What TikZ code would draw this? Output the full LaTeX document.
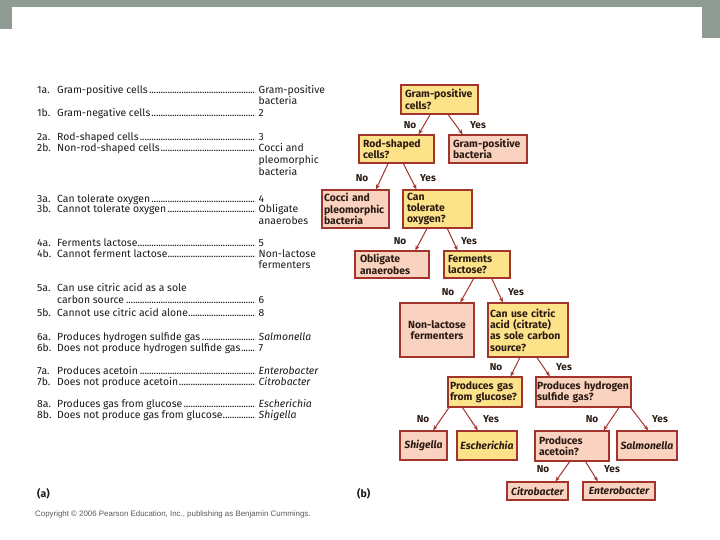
\documentclass[tikz,border=0pt]{standalone}
\usepackage{fontspec}
\setmainfont{Fira Sans}
\newfontfamily\cpfont{Liberation Sans}
\usetikzlibrary{calc,arrows.meta}
\hyphenpenalty=10000
\exhyphenpenalty=10000
\definecolor{graybar}{HTML}{8F9C94}
\definecolor{yfill}{HTML}{FCE38A}
\definecolor{pfill}{HTML}{F9D3BF}
\definecolor{bord}{HTML}{A3342C}
\definecolor{btext}{HTML}{2A1A12}
\definecolor{ktext}{HTML}{1E1A1B}
\newcommand\leaderdots{\leaders\hbox to 2.3pt{\hss.\hss}\hfill}
\newcommand\keyrow[5]{\node[keytxt] (#1) at (37,#2) {\makebox[20pt][l]{#3}\makebox[198pt][l]{#4\leaderdots}\hspace{3.5pt}#5};}
\newcommand\keycont[3]{\node[keytxt] (#1) at (258.5,#2) {#3};}
\newcommand\tarrow[4]{\draw[arrline] ($(#1.south west)!#2!(#1.south east)$) -- ($(#3.north west)!#4!(#3.north east)$);}
\begin{document}
\begin{tikzpicture}[x=1pt,y=-1pt,
  keytxt/.style={anchor=base west, inner sep=0pt, text=ktext, font=\fontsize{10.4}{11}\selectfont},
  tbox/.style={draw=bord, line width=1.1pt, text=btext, inner xsep=4pt, inner ysep=1pt,
    font=\fontsize{10.4}{11.4}\selectfont\bfseries},
  ybox/.style={tbox, fill=yfill},
  pbox/.style={tbox, fill=pfill},
  arrline/.style={draw=bord, line width=1pt, -{Stealth[length=5pt,width=4pt]}},
  lab/.style={inner sep=0pt, text=btext, font=\fontsize{10}{11}\selectfont\bfseries},
  plab/.style={anchor=west, inner sep=0pt, text=ktext, font=\fontsize{10.5}{12}\selectfont\bfseries}]
\useasboundingbox (0,0) rectangle (720,540);
\fill[white] (0,0) rectangle (720,540);
\fill[graybar] (0,0) rectangle (720,7);
\fill[graybar] (0,0) rectangle (12,29);
\fill[graybar] (702,0) rectangle (720,38);

% ---------- key (a) ----------
\keyrow{k1a}{93.5}{1a.}{Gram-positive cells}{Gram-positive}
\keycont{k1ab}{104.5}{bacteria}
\keyrow{k1b}{116.5}{1b.}{Gram-negative cells}{2}
\keyrow{k2a}{140.5}{2a.}{Rod-shaped cells}{3}
\keyrow{k2b}{151.5}{2b.}{Non-rod-shaped cells}{Cocci and}
\keycont{k2bb}{163.5}{pleomorphic}
\keycont{k2bc}{175.5}{bacteria}
\keyrow{k3a}{202.5}{3a.}{Can tolerate oxygen}{4}
\keyrow{k3b}{213}{3b.}{Cannot tolerate oxygen}{Obligate}
\keycont{k3bb}{224.5}{anaerobes}
\keyrow{k4a}{246.5}{4a.}{Ferments lactose}{5}
\keyrow{k4b}{257.5}{4b.}{Cannot ferment lactose}{Non-lactose}
\keycont{k4bb}{268.5}{fermenters}
\node[keytxt] (k5a) at (37,291.5) {\makebox[20pt][l]{5a.}Can use citric acid as a sole};
\node[keytxt] (k5aa) at (57,303.5) {\makebox[198pt][l]{carbon source\leaderdots}\hspace{3.5pt}6};
\keyrow{k5b}{316.5}{5b.}{Cannot use citric acid alone}{8}
\keyrow{k6a}{340.5}{6a.}{Produces hydrogen sulfide gas}{\textit{Salmonella}}
\keyrow{k6b}{351.5}{6b.}{Does not produce hydrogen sulfide gas}{7}
\keyrow{k7a}{374.5}{7a.}{Produces acetoin}{\textit{Enterobacter}}
\keyrow{k7b}{385.5}{7b.}{Does not produce acetoin}{\textit{Citrobacter}}
\keyrow{k8a}{407.5}{8a.}{Produces gas from glucose}{\textit{Escherichia}}
\keyrow{k8b}{418.5}{8b.}{Does not produce gas from glucose}{\textit{Shigella}}

\node[plab] (pa) at (37,494) {(a)};
\node[plab] (pb) at (357,494) {(b)};
\node[anchor=west, inner sep=0pt, text=black!65, font=\cpfont\fontsize{7.9}{9}\selectfont] (copy) at (35,514)
  {Copyright \textcopyright{} 2006 Pearson Education, Inc., publishing as Benjamin Cummings.};

% ---------- tree (b) ----------
\node[ybox, minimum width=77pt, minimum height=29pt, text width=69pt, align=left] (q1) at (439.5,99.5) {Gram-positive\\cells?};
\node[pbox, minimum width=78pt, minimum height=28pt, text width=70pt, align=left] (gpb) at (488,149) {Gram-positive\\bacteria};
\node[ybox, minimum width=75pt, minimum height=28pt, text width=67pt, align=left] (q2) at (396.5,149) {Rod-shaped\\cells?};
\node[pbox, minimum width=67pt, minimum height=38pt, text width=63pt, inner xsep=2pt, align=left] (cocci) at (355.5,209) {Cocci and\\pleomorphic\\bacteria};
\node[ybox, minimum width=69pt, minimum height=38pt, text width=61pt, align=left] (q3) at (437.5,209) {Can\\tolerate\\oxygen?};
\node[pbox, minimum width=74pt, minimum height=27pt, text width=64pt, inner xsep=5pt, align=left] (obl) at (392,264.5) {Obligate\\anaerobes};
\node[ybox, minimum width=66pt, minimum height=27pt, text width=58pt, align=left] (q4) at (477,264.5) {Ferments\\lactose?};
\node[pbox, minimum width=74pt, minimum height=54pt, text width=70pt, inner xsep=2pt, align=center] (nonlac) at (437,330) {Non-lactose\\fermenters};
\node[ybox, minimum width=80pt, minimum height=54pt, text width=76pt, inner xsep=2pt, align=left] (q5) at (528,330) {Can use citric\\acid (citrate)\\as sole carbon\\source?};
\node[ybox, minimum width=74pt, minimum height=30pt, text width=70pt, inner xsep=2pt, align=left] (q6) at (485,392) {Produces gas\\from glucose?};
\node[pbox, minimum width=95pt, minimum height=30pt, text width=93pt, inner xsep=1pt, align=left] (hs) at (583.5,392) {\mbox{Produces hydrogen}\\sulfide gas?};
\node[pbox, minimum width=47pt, minimum height=29pt, text width=45pt, inner xsep=1pt, align=center] (shig) at (423.5,445.5) {\itshape Shigella};
\node[ybox, minimum width=60pt, minimum height=29pt, text width=58pt, inner xsep=1pt, align=center] (esch) at (487,445.5) {\itshape Escherichia};
\node[pbox, minimum width=74pt, minimum height=30pt, text width=66pt, align=left] (acet) at (572,446) {Produces\\acetoin?};
\node[pbox, minimum width=60pt, minimum height=29pt, text width=58pt, inner xsep=1pt, align=center] (salm) at (647,445.5) {\itshape Salmonella};
\node[pbox, minimum width=61pt, minimum height=18pt, text width=59pt, inner xsep=1pt, align=center] (citro) at (537.5,491) {\itshape Citrobacter};
\node[pbox, minimum width=72pt, minimum height=18pt, text width=70pt, inner xsep=1pt, align=center] (entero) at (619,491) {\itshape Enterobacter};

\tarrow{q1}{0.38}{q2}{0.79}
\tarrow{q1}{0.61}{gpb}{0.18}
\tarrow{q2}{0.39}{cocci}{0.8}
\tarrow{q2}{0.59}{q3}{0.2}
\tarrow{q3}{0.35}{obl}{0.81}
\tarrow{q3}{0.64}{q4}{0.21}
\tarrow{q4}{0.45}{nonlac}{0.81}
\tarrow{q4}{0.72}{q5}{0.19}
\tarrow{q5}{0.4}{q6}{0.84}
\tarrow{q5}{0.61}{hs}{0.15}
\tarrow{q6}{0.02}{shig}{0.7}
\tarrow{q6}{0.2}{esch}{0.35}
\tarrow{hs}{0.87}{acet}{0.92}
\tarrow{hs}{0.99}{salm}{0.52}
\tarrow{acet}{0.47}{citro}{0.79}
\tarrow{acet}{0.68}{entero}{0.21}

\node[lab] (n1) at (410,125) {No};
\node[lab] (y1) at (478,125) {Yes};
\node[lab] (n2) at (362,178) {No};
\node[lab] (y2) at (428,178) {Yes};
\node[lab] (n3) at (400,241) {No};
\node[lab] (y3) at (469,241) {Yes};
\node[lab] (n4) at (448,292) {No};
\node[lab] (y4) at (516,292) {Yes};
\node[lab] (n5) at (496,367) {No};
\node[lab] (y5) at (564,367) {Yes};
\node[lab] (n6) at (423,419) {No};
\node[lab] (y6) at (491,419) {Yes};
\node[lab] (n7) at (592,419) {No};
\node[lab] (y7) at (660,419) {Yes};
\node[lab] (n8) at (543,469) {No};
\node[lab] (y8) at (612,469) {Yes};
\end{tikzpicture}
\end{document}
